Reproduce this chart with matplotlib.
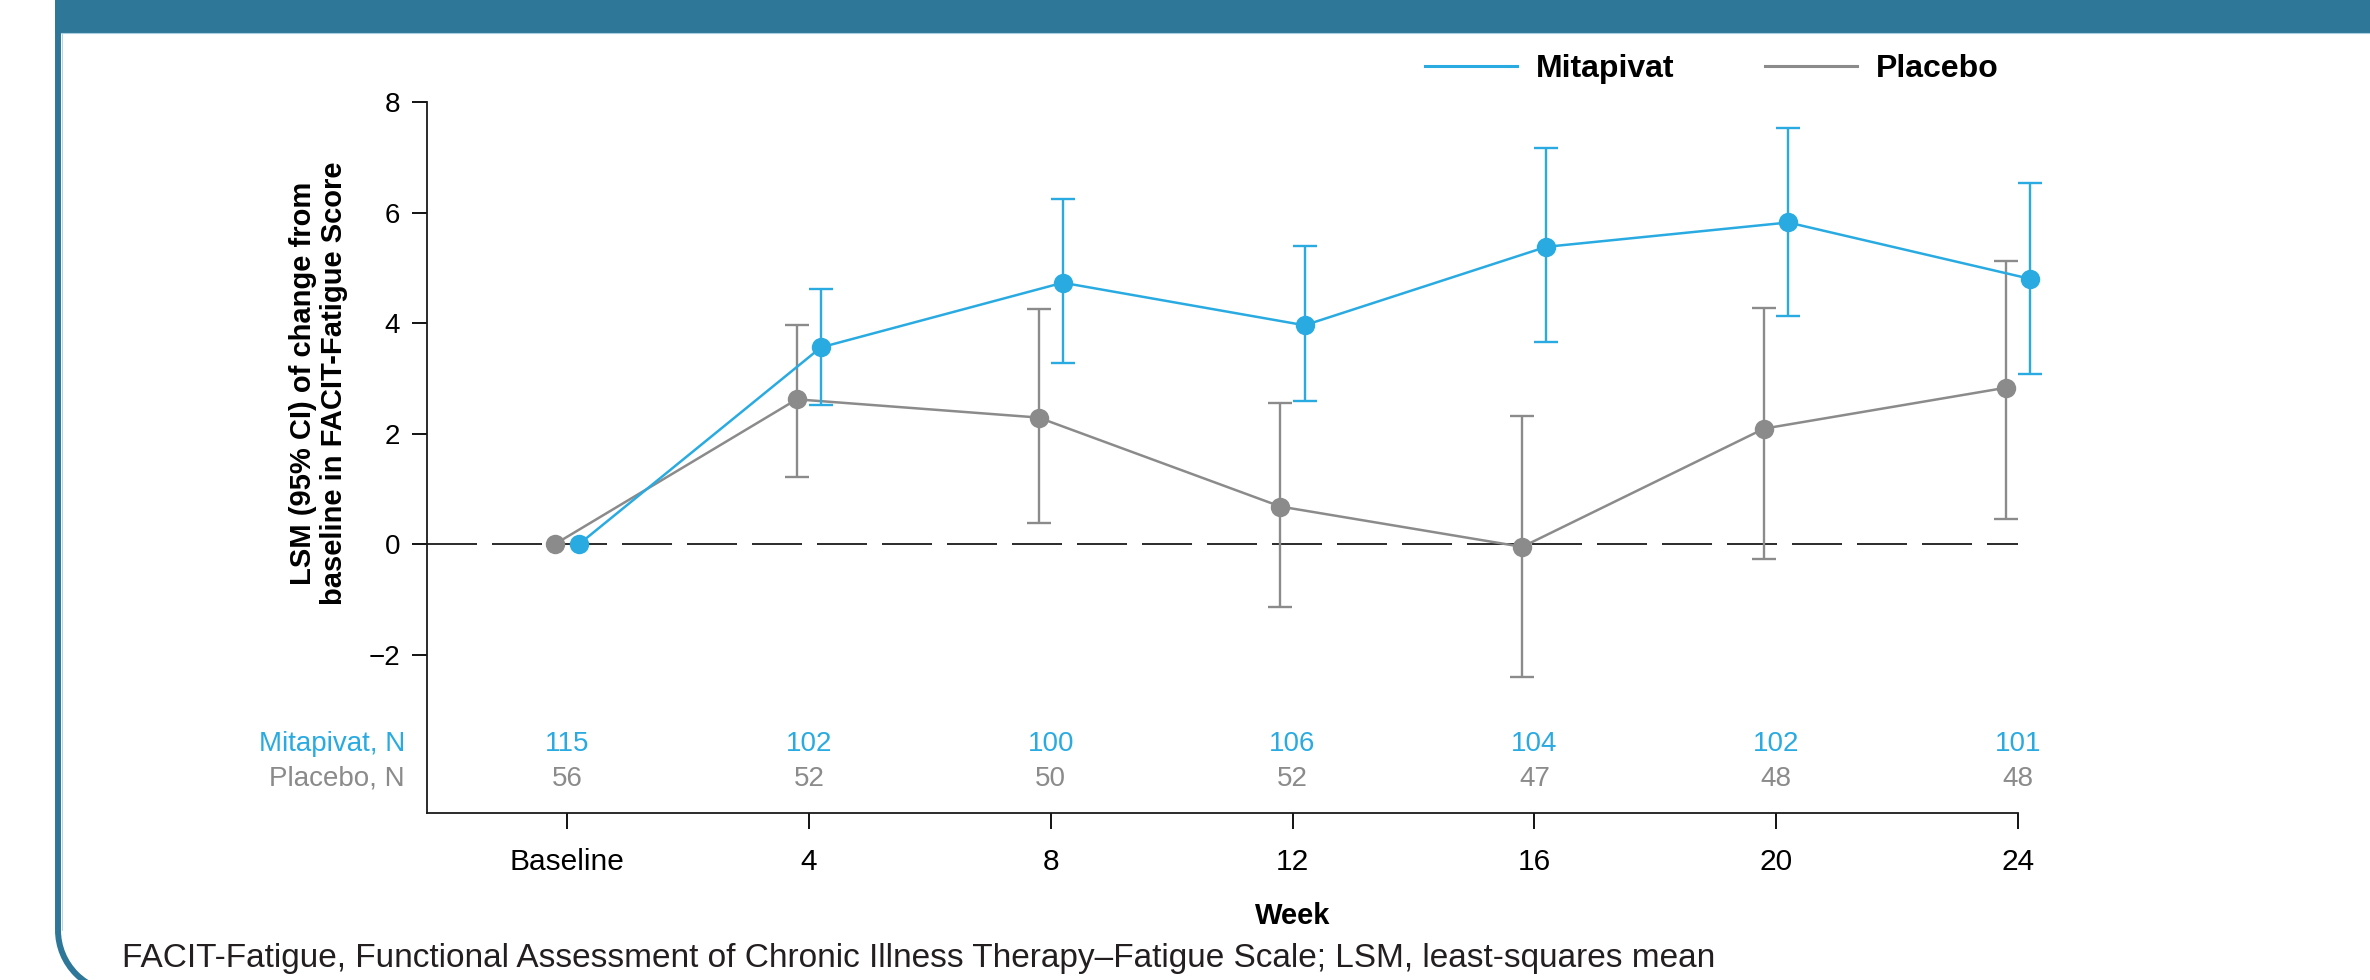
import matplotlib
matplotlib.use("Agg")
import matplotlib.pyplot as plt
from matplotlib.lines import Line2D
from matplotlib.patches import Rectangle, Arc
import numpy as np

plt.rcParams['font.family'] = ['Liberation Sans', 'DejaVu Sans']

BLUE = '#29abe2'
GREY = '#8b8b8b'
FRAME = '#2e7799'

weeks = ['Baseline', '4', '8', '12', '16', '20', '24']

# LSM change from baseline with 95% CI
mit_lsm = [0.0, 3.56, 4.73, 3.96, 5.38, 5.82, 4.80]
mit_lo = [np.nan, 2.51, 3.28, 2.59, 3.65, 4.13, 3.07]
mit_hi = [np.nan, 4.62, 6.24, 5.40, 7.16, 7.53, 6.54]

pbo_lsm = [0.0, 2.62, 2.29, 0.68, -0.05, 2.09, 2.83]
pbo_lo = [np.nan, 1.21, 0.39, -1.14, -2.40, -0.27, 0.45]
pbo_hi = [np.nan, 3.97, 4.25, 2.55, 2.32, 4.28, 5.12]

mit_n = [115, 102, 100, 106, 104, 102, 101]
pbo_n = [56, 52, 50, 52, 47, 48, 48]

W, H = 2370, 980
fig = plt.figure(figsize=(W / 100, H / 100), dpi=100)

# page furniture drawn in pixel coordinates
bg = fig.add_axes([0, 0, 1, 1])
bg.set_xlim(0, W)
bg.set_ylim(H, 0)
bg.axis('off')
bg.add_patch(Rectangle((55, 0), W - 55, 33, color=FRAME, lw=0))
bg.plot([61, W], [33.5, 33.5], color='#a9cfe0', lw=0.8)
bg.plot([58, 58], [30, 930], color=FRAME, lw=4.3, solid_capstyle='butt')
bg.plot([61.5, 61.5], [34, 930], color='#a9cfe0', lw=0.6)
bg.add_patch(Arc((120.5, 930), 125, 125, theta1=90, theta2=180, color=FRAME, lw=4.3))
bg.text(122, 958, 'FACIT-Fatigue, Functional Assessment of Chronic Illness Therapy\u2013Fatigue Scale; '
        'LSM, least-squares mean', fontsize=24, color='#231f20', ha='left', va='center')

ax = fig.add_axes([427 / W, 1 - 812.7 / H, (2018 - 427) / W, (812.7 - 102) / H])
ax.patch.set_alpha(0)

x = np.arange(len(weeks))
off = 0.05

ax.plot([-0.579, 6], [0, 0], color='#1a1a1a', lw=1.3, dashes=(27.7, 8.3), zorder=1)


def draw_series(xs, lsm, lo, hi, color, z):
    lsm = np.array(lsm)
    err = [lsm - np.array(lo), np.array(hi) - lsm]
    ax.errorbar(xs, lsm, yerr=err, fmt='none', ecolor=color, elinewidth=1.7,
                capsize=8.4, capthick=1.7, zorder=z, clip_on=False)
    ax.plot(xs, lsm, color=color, lw=1.8, marker='o', ms=14, mew=0, zorder=z + 0.5, clip_on=False)


draw_series(x - off, pbo_lsm, pbo_lo, pbo_hi, GREY, 3)
draw_series(x + off, mit_lsm, mit_lo, mit_hi, BLUE, 4)

ax.set_xlim(-0.579, 6)
ax.set_ylim(-4.86, 8)
ax.set_yticks([-2, 0, 2, 4, 6, 8])
ax.set_xticks(x)
ax.set_xticklabels(weeks)
for s in ['top', 'right']:
    ax.spines[s].set_visible(False)
for s in ['left', 'bottom']:
    ax.spines[s].set_linewidth(1.3)
    ax.spines[s].set_color('#1a1a1a')
ax.tick_params(axis='y', length=10.8, width=1.3, pad=8.6, labelsize=20)
ax.tick_params(axis='x', length=11.5, width=1.3, pad=14, labelsize=21.5)

# participants per visit
trans = ax.get_yaxis_transform()
ax.text(-0.0138, -3.615, 'Mitapivat, N', transform=trans, ha='right', va='center', fontsize=20, color=BLUE)
ax.text(-0.0138, -4.248, 'Placebo, N', transform=trans, ha='right', va='center', fontsize=20, color=GREY)
for i in range(len(weeks)):
    ax.text(x[i], -3.615, str(mit_n[i]), ha='center', va='center', fontsize=20, color=BLUE)
    ax.text(x[i], -4.248, str(pbo_n[i]), ha='center', va='center', fontsize=20, color=GREY)

ax.text(-0.0682, 0.604, 'LSM (95% CI) of change from\nbaseline in FACIT-Fatigue Score', transform=ax.transAxes,
        rotation=90, ha='center', va='center', fontsize=21, fontweight='bold', linespacing=1.15)
ax.text(3, -6.73, 'Week', ha='center', va='center', fontsize=21, fontweight='bold')

handles = [Line2D([], [], color=BLUE, lw=2.2), Line2D([], [], color=GREY, lw=2.2)]
leg = fig.legend(handles, ['Mitapivat', 'Placebo'], loc='center left',
                 bbox_to_anchor=(1424.6 / W, 1 - 69 / H), ncol=2, frameon=False,
                 borderpad=0, borderaxespad=0, handlelength=2.88, handletextpad=0.6,
                 columnspacing=2.84, prop={'weight': 'bold', 'size': 23})

fig.savefig('out.png', dpi=100)
